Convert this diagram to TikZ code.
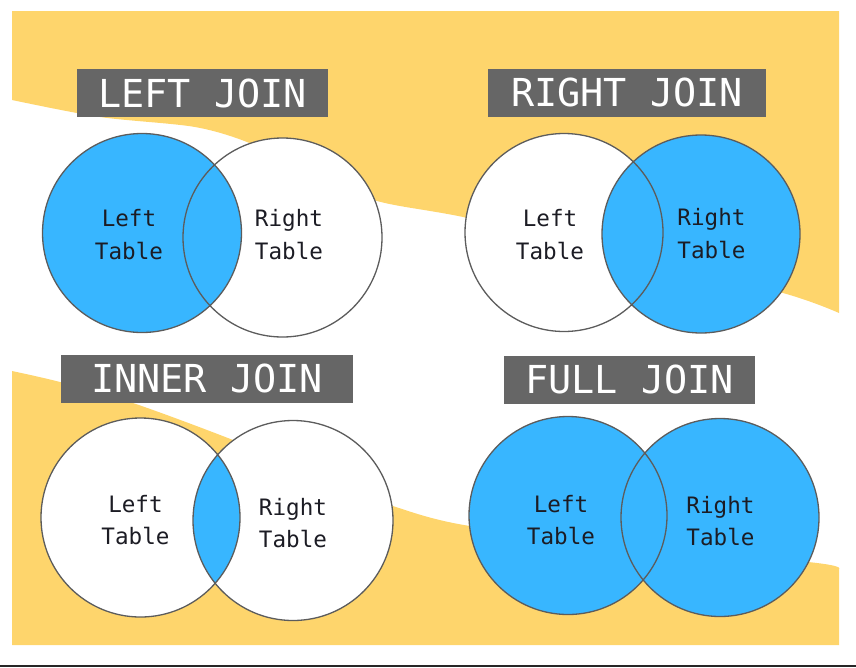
\documentclass[tikz,border=0pt]{standalone}
\usepackage{fontspec}
\setmonofont{DejaVu Sans Mono}
\usetikzlibrary{calc}
\definecolor{sand}{RGB}{254,213,108}
\definecolor{sky}{RGB}{56,182,255}
\definecolor{slab}{RGB}{102,102,102}
\definecolor{rim}{RGB}{92,92,92}
\definecolor{ink}{RGB}{28,28,36}
\tikzset{
  jointitle/.style={fill=slab, text=white, inner sep=0pt, minimum height=48pt,
    font=\ttfamily\fontsize{38.5pt}{40pt}\selectfont},
  tablename/.style={text=ink, align=center, inner sep=0pt,
    font=\ttfamily\fontsize{22.6pt}{32.5pt}\selectfont},
  rim/.style={draw=rim, line width=1.3pt}
}
\begin{document}
\begin{tikzpicture}[x=1pt, y=-1pt]
\useasboundingbox (0,0) rectangle (856,667);

% yellow background bands
\fill[sand] (12,11) -- (839,11) -- (839,313)
  -- plot[smooth] coordinates {(839,313) (783,293) (620,252) (463,217) (377,201)
     (310,174) (252,144) (195,127) (100,117) (12,100)} -- cycle;
\fill[sand] plot[smooth] coordinates {(12,371) (60,382) (133,403) (233,440)
     (313,474) (393,506) (470,526) (640,545) (817,563) (839,569)}
  -- (839,645) -- (12,645) -- cycle;
\draw[line width=1.5pt, black!85] (0,666) -- (856,666);

% titles
\node[jointitle, minimum width=251pt] (ljtitle) at (202.5,93) {LEFT JOIN};
\node[jointitle, minimum width=278pt] (rjtitle) at (627,92.5) {RIGHT JOIN};
\node[jointitle, minimum width=292pt] (ijtitle) at (207,378.5) {INNER JOIN};
\node[jointitle, minimum width=251pt] (fjtitle) at (629.5,379.5) {FULL JOIN};

% circle centres
\coordinate (lj1) at (142,233);
\coordinate (lj2) at (282.5,237.5);
\coordinate (rj1) at (564,232.5);
\coordinate (rj2) at (701,234);
\coordinate (ij1) at (140.5,517.5);
\coordinate (ij2) at (293,520.5);
\coordinate (fj1) at (568,515.5);
\coordinate (fj2) at (720,517.5);

% left join
\fill[white] (lj2) circle (99.5pt);
\fill[sky] (lj1) circle (99.5pt);
\draw[rim] (lj1) circle (99.5pt) (lj2) circle (99.5pt);

% right join
\fill[white] (rj1) circle (99pt);
\fill[sky] (rj2) circle (99pt);
\draw[rim] (rj1) circle (99pt) (rj2) circle (99pt);

% inner join
\fill[white] (ij1) circle (99.5pt) (ij2) circle (100pt);
\begin{scope}
  \clip (ij1) circle (99.5pt);
  \fill[sky] (ij2) circle (100pt);
\end{scope}
\draw[rim] (ij1) circle (99.5pt) (ij2) circle (100pt);

% full join
\fill[sky] (fj1) circle (99pt) (fj2) circle (99pt);
\draw[rim] (fj1) circle (99pt) (fj2) circle (99pt);

% table names
\node[tablename] (ljleft) at (129,234.5) {Left\\Table};
\node[tablename] (ljright) at (289,234.5) {Right\\Table};
\node[tablename] (rjleft) at (550,234.5) {Left\\Table};
\node[tablename] (rjright) at (711.5,233.5) {Right\\Table};
\node[tablename] (ijleft) at (135.5,520) {Left\\Table};
\node[tablename] (ijright) at (293,523) {Right\\Table};
\node[tablename] (fjleft) at (561,520) {Left\\Table};
\node[tablename] (fjright) at (720.5,521) {Right\\Table};
\end{tikzpicture}
\end{document}
